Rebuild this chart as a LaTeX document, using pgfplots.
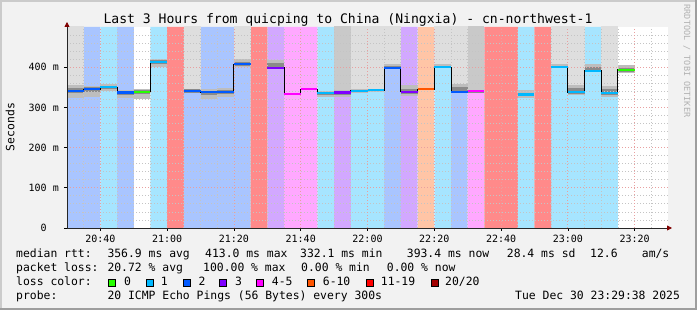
\documentclass[border=0pt]{standalone}
\usepackage{pgfplots}
\pgfplotsset{compat=1.18}
\usepackage{pgfplotstable}
\usepackage{fontspec}
\setmainfont{DejaVu Sans Mono}
\usetikzlibrary{arrows.meta}

\definecolor{rrdback}{HTML}{F2F2F2}
\definecolor{shadea}{HTML}{CBCBCB}
\definecolor{shadeb}{HTML}{9E9E9E}
\definecolor{arrowred}{HTML}{800000}
\definecolor{mgrid}{HTML}{E8A0A0}
\definecolor{mingrid}{HTML}{C4C4C4}
% loss colours
\definecolor{lgreen}{HTML}{26FF00}
\definecolor{lcyan}{HTML}{00B8FF}
\definecolor{lblue}{HTML}{0059FF}
\definecolor{lpurple}{HTML}{7E00FF}
\definecolor{lmagenta}{HTML}{FF00FF}
\definecolor{lorange}{HTML}{FF5500}
\definecolor{lred}{HTML}{FF0000}
\definecolor{ldred}{HTML}{A10000}
% background (light) loss colours
\definecolor{bgblue}{HTML}{A9C5FF}
\definecolor{bgcyan}{HTML}{A6E5FF}
\definecolor{bgpurple}{HTML}{D2A8FF}
\definecolor{bgpink}{HTML}{FFA8FF}
\definecolor{bgorange}{HTML}{FFC5A6}
\definecolor{bgred}{HTML}{FF8A8A}
% smoke
\definecolor{toplight}{HTML}{DEDEDE}
\definecolor{topdark}{HTML}{C9C9C9}
\definecolor{smokeout}{HTML}{BDBDBD}
\definecolor{smokein}{HTML}{8A8A8A}

\newcommand\legfont{\fontsize{11.4}{13}\selectfont}
\newcommand\tickfont{\fontsize{10}{12}\selectfont}

% per 5-minute column: centre, smoke low/high, inner band low/high (ms)
\pgfplotstableread{
c lo hi ilo ihi
0.5 323 356 336 349
1.5 327 354 338 350
2.5 341 357 346 354
3.5 324 343 331 340
4.5 321 346 334 343
5.5 401 420 407 417
7.5 335 346 337 345
8.5 321 346 332 342
9.5 327 348 333 343
10.5 401 420 404 414
12.5 399 418 401 411
15.5 327 342 331 339
16.5 327 343 332 341
17.5 335 345 338 344
18.5 339 347 341 346
19.5 396 407 397 404
20.5 328 356 334 346
22.5 397 407 398 404
23.5 335 357 337 350
24.5 335 343 337 342
27.5 324 343 328 337
29.5 397 407 398 404
30.5 331 356 334 348
31.5 391 407 392 401
32.5 327 352 331 345
33.5 385 405 389 399
}\smoke

\pgfplotstableread{
c from
0.5 356
7.5 346
10.5 420
17.5 345
18.5 347
19.5 407
22.5 407
23.5 357
29.5 407
30.5 356
32.5 352
}\toplightT

\pgfplotstableread{
c from
16.5 343
24.5 343
}\topdarkT

% median per column start (nan = no median)
\pgfplotstableread{
x med
-1 400
0 341
1 345
2 350
3 337
4 339
5 413
6 nan
7 341
8 338
9 338
10 407
11 nan
12 399
13 334
14 345
15 336
16 337
17 341
18 343
19 399
20 339
21 345
22 400
23 339
24 340
25 nan
26 nan
27 332.1
28 nan
29 400
30 337.5
31 391
32 336
33 393.4
34 393.4
}\median

\begin{document}
\begin{tikzpicture}
\useasboundingbox (0pt,0pt) rectangle (697pt,310pt);
\fill[rrdback] (0pt,0pt) rectangle (697pt,310pt);
\fill[shadea] (0pt,0pt) rectangle (2pt,310pt);
\fill[shadea] (0pt,308pt) rectangle (697pt,310pt);
\fill[shadeb] (695pt,0pt) rectangle (697pt,310pt);
\fill[shadeb] (0pt,0pt) rectangle (697pt,2pt);

\begin{axis}[
  at={(67pt,82pt)}, anchor=south west,
  scale only axis, width=601pt, height=201pt,
  xmin=0, xmax=36, ymin=0, ymax=500,
  axis x line*=bottom, axis y line*=left,
  axis line style={draw=black!85, line width=0.8pt},
  x axis line style={-{Triangle[length=5pt,width=5pt,color=arrowred]}, shorten >=-4pt},
  y axis line style={-{Triangle[length=5pt,width=5pt,color=arrowred]}, shorten >=-5pt},
  axis background/.style={fill=white},
  axis on top,
  /pgf/number format/assume math mode=true,
  xtick={2,6,10,14,18,22,26,30,34},
  xticklabels={20:40,21:00,21:20,21:40,22:00,22:20,22:40,23:00,23:20},
  ytick={0,100,200,300,400},
  yticklabels={0\hphantom{\ m},100 m,200 m,300 m,400 m},
  tick align=outside,
  major tick length=3pt,
  tick style={black, line width=0.6pt},
  xticklabel style={font=\tickfont, inner sep=0pt, anchor=north, yshift=-3.5pt},
  yticklabel style={font=\tickfont, inner sep=0pt, anchor=east, xshift=-5pt},
]
% loss background columns
\addplot[ybar, bar width=1, bar shift=0pt, fill=bgblue, draw=none, mark=none]
  coordinates {(0.5,500)(1.5,500)(3.5,500)(7.5,500)(8.5,500)(9.5,500)(10.5,500)(19.5,500)(23.5,500)};
\addplot[ybar, bar width=1, bar shift=0pt, fill=bgcyan, draw=none, mark=none]
  coordinates {(2.5,500)(5.5,500)(15.5,500)(17.5,500)(18.5,500)(22.5,500)(27.5,500)(29.5,500)(30.5,500)(31.5,500)(32.5,500)};
\addplot[ybar, bar width=1, bar shift=0pt, fill=bgpurple, draw=none, mark=none]
  coordinates {(12.5,500)(16.5,500)(20.5,500)};
\addplot[ybar, bar width=1, bar shift=0pt, fill=bgpink, draw=none, mark=none]
  coordinates {(13.5,500)(14.5,500)(24.5,500)};
\addplot[ybar, bar width=1, bar shift=0pt, fill=bgorange, draw=none, mark=none]
  coordinates {(21.5,500)};
\addplot[ybar, bar width=1, bar shift=0pt, fill=bgred, draw=none, mark=none]
  coordinates {(6.5,500)(11.5,500)(25.5,500)(26.5,500)(28.5,500)};

% smoke
\addplot[draw=none, mark=none, error bars/.cd, y dir=plus, y fixed=300, error mark=none,
  error bar style={line width=16.7pt, draw=toplight}] table[x=c, y=from] {\toplightT};
\addplot[draw=none, mark=none, error bars/.cd, y dir=plus, y fixed=300, error mark=none,
  error bar style={line width=16.7pt, draw=topdark}] table[x=c, y=from] {\topdarkT};
\addplot[draw=none, mark=none, error bars/.cd, y dir=plus, y explicit, error mark=none,
  error bar style={line width=16.7pt, draw=smokeout}]
  table[x=c, y=lo, y error expr=\thisrow{hi}-\thisrow{lo}] {\smoke};
\addplot[draw=none, mark=none, error bars/.cd, y dir=plus, y explicit, error mark=none,
  error bar style={line width=16.7pt, draw=smokein}]
  table[x=c, y=ilo, y error expr=\thisrow{ihi}-\thisrow{ilo}] {\smoke};

% grid (drawn over the areas, under the median lines)
\pgfplotsinvokeforeach{1,3,4,5,7,8,9,11,12,13,15,16,17,19,20,21,23,24,25,27,28,29,31,32,33,35}{
  \draw[mingrid, line width=0.8pt, dash pattern=on 1pt off 2pt] (axis cs:#1,0) -- (axis cs:#1,500);}
\pgfplotsinvokeforeach{20,40,60,80,120,140,160,180,220,240,260,280,320,340,360,380,420,440,460,480}{
  \draw[mingrid, line width=0.8pt, dash pattern=on 1pt off 2pt] (axis cs:0,#1) -- (axis cs:36,#1);}
\pgfplotsinvokeforeach{2,6,10,14,18,22,26,30,34}{
  \draw[mgrid, line width=0.8pt, dash pattern=on 1pt off 2pt] (axis cs:#1,0) -- (axis cs:#1,500);}
\pgfplotsinvokeforeach{100,200,300,400}{
  \draw[mgrid, line width=0.8pt, dash pattern=on 1pt off 2pt] (axis cs:0,#1) -- (axis cs:36,#1);}

% median step line
\addplot[const plot, black, line width=0.9pt, mark=none, unbounded coords=jump] table[x=x, y=med] {\median};

% coloured median segments
\addplot[draw=none, mark=none, error bars/.cd, x dir=both, x fixed=0.5, error mark=none,
  error bar style={line width=2.2pt, draw=lblue}]
  coordinates {(0.5,341)(1.5,345)(3.5,337)(7.5,341)(8.5,338)(9.5,338)(10.5,407)(19.5,399)(23.5,339)};
\addplot[draw=none, mark=none, error bars/.cd, x dir=both, x fixed=0.5, error mark=none,
  error bar style={line width=2.2pt, draw=lcyan}]
  coordinates {(2.5,350)(5.5,413)(15.5,336)(17.5,341)(18.5,343)(22.5,400)(27.5,332.1)(29.5,400)(30.5,337.5)(31.5,391)(32.5,336)};
\addplot[draw=none, mark=none, error bars/.cd, x dir=both, x fixed=0.5, error mark=none,
  error bar style={line width=2.2pt, draw=lgreen}]
  coordinates {(4.5,339)(33.5,393.4)};
\addplot[draw=none, mark=none, error bars/.cd, x dir=both, x fixed=0.5, error mark=none,
  error bar style={line width=2.2pt, draw=lpurple}]
  coordinates {(12.5,399)(16.5,337)(20.5,339)};
\addplot[draw=none, mark=none, error bars/.cd, x dir=both, x fixed=0.5, error mark=none,
  error bar style={line width=2.2pt, draw=lmagenta}]
  coordinates {(13.5,334)(14.5,345)(24.5,340)};
\addplot[draw=none, mark=none, error bars/.cd, x dir=both, x fixed=0.5, error mark=none,
  error bar style={line width=2.2pt, draw=lorange}]
  coordinates {(21.5,345)};
\end{axis}

% title and labels
\node[anchor=base, inner sep=0pt, font=\fontsize{13.1}{15}\selectfont] at (348pt,286pt)
  {Last 3 Hours from quicping to China (Ningxia) - cn-northwest-1};
\node[rotate=90, inner sep=0pt, font=\legfont] at (10pt,183pt) {Seconds};
\node[rotate=-90, inner sep=0pt, font=\fontsize{8.5}{10}\selectfont, text=black!30] at (687pt,249pt)
  {RRDTOOL / TOBI OETIKER};

% legend lines
\begin{scope}[every node/.style={anchor=base west, inner sep=0pt, font=\legfont}]
\node at (16pt,52pt) {median rtt:};
\node at (107.3pt,52pt) {356.9 ms avg};
\node at (205pt,52pt) {413.0 ms max};
\node at (300pt,52pt) {332.1 ms min};
\node at (406.7pt,52pt) {393.4 ms now};
\node at (506.7pt,52pt) {28.4 ms sd};
\node at (590pt,52pt) {12.6};
\node at (641.7pt,52pt) {am/s};

\node at (16pt,38pt) {packet loss:};
\node at (107.3pt,38pt) {20.72 \% avg};
\node at (203pt,38pt) {100.00 \% max};
\node at (301pt,38pt) {0.00 \% min};
\node at (386.7pt,38pt) {0.00 \% now};

\node at (16pt,24pt) {loss color:};
\node at (124pt,24pt) {0};
\node at (160.7pt,24pt) {1};
\node at (198.3pt,24pt) {2};
\node at (235pt,24pt) {3};
\node at (271.7pt,24pt) {4-5};
\node at (322.7pt,24pt) {6-10};
\node at (380.7pt,24pt) {11-19};
\node at (445pt,24pt) {20/20};

\node at (16pt,10pt) {probe:};
\node at (107.3pt,10pt) {20 ICMP Echo Pings (56 Bytes) every 300s};
\node at (515pt,10pt) {Tue Dec 30 23:29:38 2025};
\end{scope}
\begin{scope}[line width=0.8pt]
\filldraw[fill=lgreen, draw=black] (108.7pt,24pt) rectangle ++(7pt,7pt);
\filldraw[fill=lcyan, draw=black] (146.1pt,24pt) rectangle ++(7pt,7pt);
\filldraw[fill=lblue, draw=black] (183.1pt,24pt) rectangle ++(7pt,7pt);
\filldraw[fill=lpurple, draw=black] (219.7pt,24pt) rectangle ++(7pt,7pt);
\filldraw[fill=lmagenta, draw=black] (256.4pt,24pt) rectangle ++(7pt,7pt);
\filldraw[fill=lorange, draw=black] (307.7pt,24pt) rectangle ++(7pt,7pt);
\filldraw[fill=lred, draw=black] (366.1pt,24pt) rectangle ++(7pt,7pt);
\filldraw[fill=ldred, draw=black] (431.1pt,24pt) rectangle ++(7pt,7pt);
\end{scope}
\end{tikzpicture}
\end{document}
